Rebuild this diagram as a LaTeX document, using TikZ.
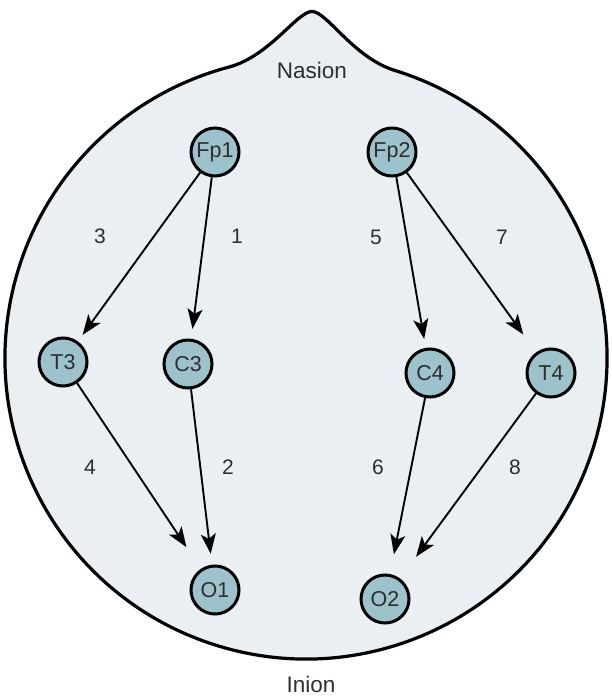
\documentclass[tikz,border=0pt]{standalone}
\usepackage{fontspec}
\setmainfont{Liberation Sans}
\usetikzlibrary{arrows.meta}
\definecolor{headfill}{HTML}{E9EFF2}
\definecolor{nodefill}{HTML}{9DC2CB}
\definecolor{txt}{HTML}{2E2E2E}
\tikzset{
  electrode/.style={circle, draw=black, line width=3pt, fill=nodefill, minimum size=48pt, inner sep=0pt, text=txt, font=\fontsize{21.5}{21.5}\selectfont},
  lead/.style={line width=1.9pt, -{Stealth[length=20pt,width=15pt,inset=5pt]}},
  num/.style={text=txt, font=\fontsize{21}{21}\selectfont},
  landmark/.style={text=txt, font=\fontsize{22.5}{22.5}\selectfont}
}
\begin{document}
\begin{tikzpicture}[x=1pt,y=-1pt]
\useasboundingbox (0,0) rectangle (611,698);
% head outline with nose
\draw[line width=3.2pt, fill=headfill]
  (395,70.5) arc[start angle=-72.8, end angle=255.18, radius=301]
  .. controls (270,56) and (297,11.5) .. (312,11.5)
  .. controls (327,11.5) and (353,57.5) .. (395,70.5) -- cycle;
\node[landmark] (nasion) at (312,70) {Nasion};
\node[landmark] (inion) at (311,684) {Inion};
% electrodes
\node[electrode] (Fp1) at (215,152) {Fp1};
\node[electrode] (Fp2) at (392,152) {Fp2};
\node[electrode] (T3) at (63,362) {T3};
\node[electrode] (C3) at (188,364) {C3};
\node[electrode] (C4) at (430,373) {C4};
\node[electrode] (T4) at (551,373) {T4};
\node[electrode] (O1) at (215,590) {O1};
\node[electrode] (O2) at (385,599) {O2};
% leads
\draw[lead, shorten >=8pt] (Fp1) -- (T3);
\draw[lead, shorten >=10pt] (Fp1) -- (C3);
\draw[lead, shorten >=26pt] (T3) -- (O1);
\draw[lead, shorten >=11pt] (C3) -- (O1);
\draw[lead, shorten >=9pt] (Fp2) -- (C4);
\draw[lead, shorten >=22pt] (Fp2) -- (T4);
\draw[lead, shorten >=20pt] (C4) -- (O2);
\draw[lead, shorten >=27pt] (T4) -- (O2);
% numbers
\node[num] (n3) at (100,236) {3};
\node[num] (n1) at (237,236) {1};
\node[num] (n5) at (376,237) {5};
\node[num] (n7) at (502,237) {7};
\node[num] (n4) at (90,467) {4};
\node[num] (n2) at (228,467) {2};
\node[num] (n6) at (378,467) {6};
\node[num] (n8) at (515,467) {8};
\end{tikzpicture}
\end{document}
